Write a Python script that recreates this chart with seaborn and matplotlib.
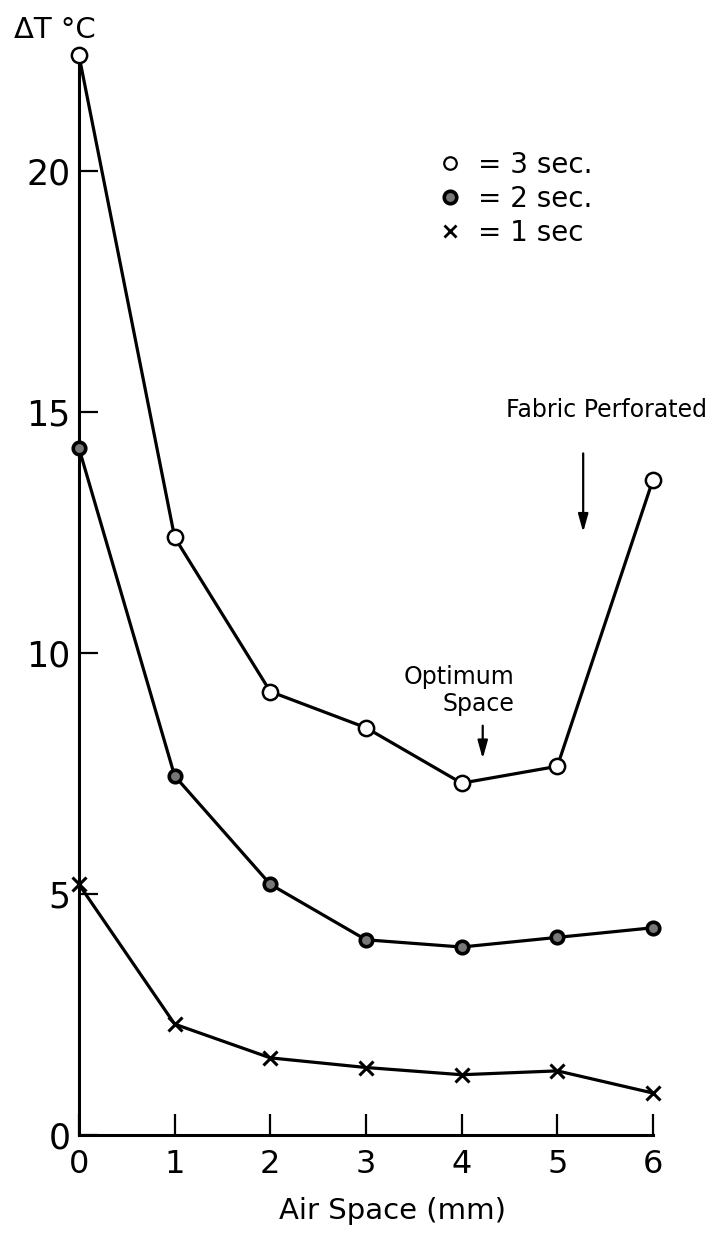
import matplotlib
matplotlib.use("Agg")
import matplotlib.pyplot as plt
import seaborn as sns
import pandas as pd
from matplotlib.lines import Line2D

# air space (mm)
air_space = [0, 1, 2, 3, 4, 5, 6]
# temperature rise (deg C)
dt_3sec = [22.4, 12.4, 9.2, 8.45, 7.3, 7.65, 13.6]
dt_2sec = [14.25, 7.45, 5.2, 4.05, 3.9, 4.1, 4.3]
dt_1sec = [5.2, 2.3, 1.6, 1.4, 1.25, 1.33, 0.87]

y_ticks = [0, 5, 10, 15, 20]

sns.set_theme(style="white")
plt.rcParams['font.family'] = ['DejaVu Sans']
plt.rcParams['text.color'] = 'black'
plt.rcParams['axes.labelcolor'] = 'black'

fig = plt.figure(figsize=(7.14, 12.33), dpi=100)
ax = fig.add_axes([0.1106, 0.0795, 0.804, 0.899])

df = pd.DataFrame({"air": air_space, "s3": dt_3sec, "s2": dt_2sec, "s1": dt_1sec})

sns.lineplot(data=df, x="air", y="s3", ax=ax, color="black", lw=2.3,
             marker="o", ms=11, mfc="white", mec="black", mew=1.8, clip_on=False, zorder=3)
sns.lineplot(data=df, x="air", y="s2", ax=ax, color="black", lw=2.3,
             marker="o", ms=9, mfc="#777777", mec="black", mew=2.6, clip_on=False, zorder=3)
sns.lineplot(data=df, x="air", y="s1", ax=ax, color="black", lw=2.3,
             marker="x", ms=10, mec="black", mew=2.2, clip_on=False, zorder=3)

ax.set_xlim(0, 6)
ax.set_ylim(0, 23)
ax.set_xticks(air_space)
ax.set_yticks(y_ticks)

for s in ["top", "right"]:
    ax.spines[s].set_visible(False)
ax.spines["left"].set_bounds(0, 22.4)
for s in ["left", "bottom"]:
    ax.spines[s].set_color("black")
    ax.spines[s].set_linewidth(2.2)

ax.tick_params(axis="y", left=True, direction="in", length=14, width=1.6, pad=6,
               labelsize=25, colors="black")
ax.tick_params(axis="x", bottom=True, direction="in", length=15, width=1.6, pad=10,
               labelsize=23, colors="black")

ax.set_xlabel("Air Space (mm)", fontsize=21)
ax.xaxis.set_label_coords(0.547, -0.056)
ax.set_ylabel("")
fig.text(0.02, 1 - 30 / 1233, "ΔT °C", fontsize=21, va="center", ha="left")

handles = [
    Line2D([], [], ls="none", marker="o", ms=9, mfc="white", mec="black", mew=1.6),
    Line2D([], [], ls="none", marker="o", ms=9, mfc="#777777", mec="black", mew=2.6),
    Line2D([], [], ls="none", marker="x", ms=8, mec="black", mew=2),
]
ax.legend(handles, ["= 3 sec.", "= 2 sec.", "= 1 sec"], frameon=False, fontsize=20,
          loc="upper left", bbox_to_anchor=(422 / 714, 1 - 137 / 1233),
          bbox_transform=fig.transFigure, handlelength=1.0, handletextpad=0.5,
          labelspacing=0.22, borderpad=0)

ax.text(6.56, 15.04, "Fabric Perforated", fontsize=17, ha="right", va="center")
ax.annotate("", xy=(5.27, 12.45), xytext=(5.27, 14.2),
            arrowprops=dict(arrowstyle="-|>,head_width=0.25,head_length=0.9", color="black", lw=1.6))

ax.text(4.556, 9.23, "Optimum\nSpace", fontsize=17, ha="right", va="center",
        multialignment="right", linespacing=1.15)
ax.annotate("", xy=(4.22, 7.75), xytext=(4.22, 8.55),
            arrowprops=dict(arrowstyle="-|>,head_width=0.25,head_length=0.9", color="black", lw=1.6))

fig.savefig("out.png", dpi=100)
